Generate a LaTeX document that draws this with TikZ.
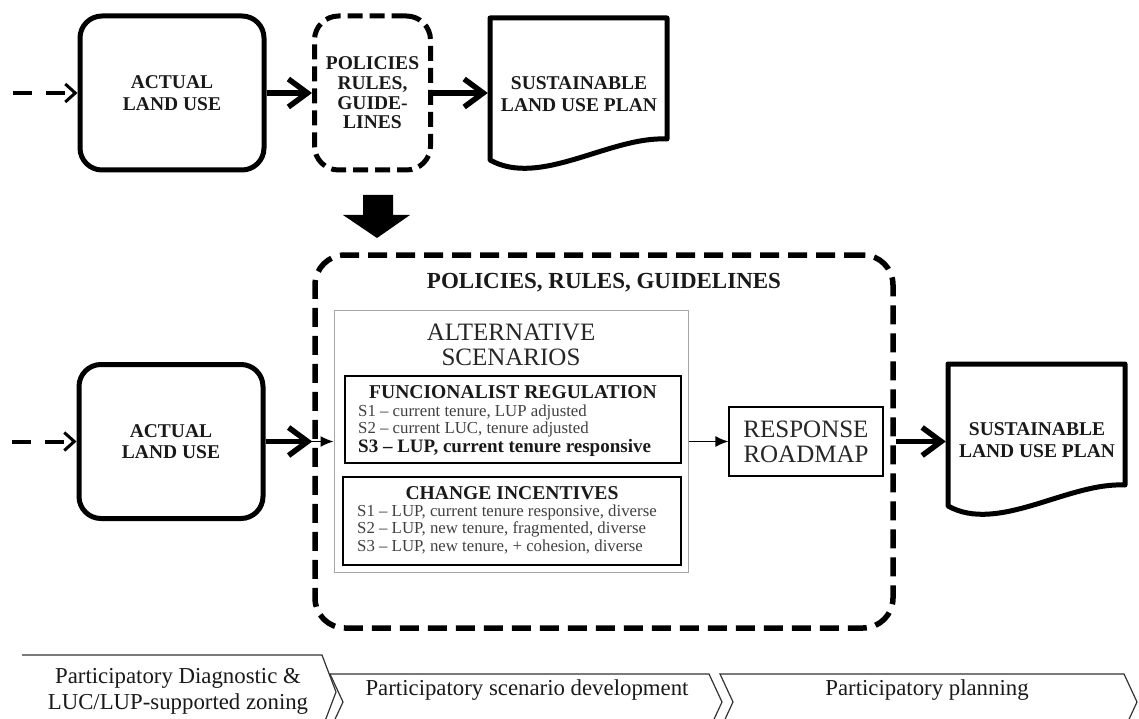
\documentclass[tikz,border=0pt]{standalone}
\usepackage{fontspec}
\setmainfont{Liberation Serif}
\usetikzlibrary{arrows.meta,calc}

% outline of a flowchart "document" shape around a named node
\newcommand\docoutline[1]{%
  \draw[docline] ($(#1)+(-89,66)$) -- ($(#1)+(-89,-76)$) -- ($(#1)+(88,-76)$)
    -- ($(#1)+(88,45)$) .. controls ($(#1)+(31,42)$) and ($(#1)+(-39,94)$) .. ($(#1)+(-89,66)$) -- cycle;}

\begin{document}
\begin{tikzpicture}[x=1pt,y=-1pt,
  lbl/.style={font=\fontsize{19.5}{21.5}\selectfont\bfseries, align=center, text=black!90},
  flowbox/.style={draw, line width=5pt, rounded corners=22pt, minimum width=184pt, minimum height=154pt, lbl},
  rulebox/.style={draw, line width=5pt, dash pattern=on 15pt off 7pt, rounded corners=24pt,
    minimum width=116pt, minimum height=154pt, align=center, text=black!90,
    font=\fontsize{19.5}{19.7}\selectfont\bfseries},
  docbox/.style={minimum width=182pt, minimum height=142pt, lbl},
  docline/.style={line width=5pt, line join=round},
  flow/.style={line width=5.5pt, -{Straight Barb[length=19pt,width=28pt]}},
  feed/.style={line width=4pt, dash pattern=on 19pt off 14pt,
    -{Straight Barb[length=10pt,width=18pt,line width=3pt]}},
  link/.style={line width=1.3pt, -{Latex[length=13pt,width=11pt]}},
  frame/.style={draw, line width=5.5pt, dash pattern=on 19pt off 9pt, rounded corners=30pt},
  panel/.style={draw, line width=1.3pt},
  head/.style={font=\fontsize{19.6}{21}\selectfont\bfseries, text=black!90},
  scen/.style={font=\fontsize{16.8}{18}\selectfont, text=black!75, anchor=west, inner sep=0pt},
  scenbold/.style={font=\fontsize{19}{20}\selectfont\bfseries, text=black!90, anchor=west, inner sep=0pt},
  caps/.style={font=\fontsize{25}{25}\selectfont, align=center, text=black!85},
  phase/.style={font=\fontsize{22.8}{26}\selectfont, align=center, text=black!90},
  phaseline/.style={draw=black!80, line width=1.2pt, line join=miter}
]
\useasboundingbox (0,0) rectangle (1139,719);

% ---------- upper chain ----------
\coordinate (in1) at (13,93);
\node[flowbox] (actual1) at (172,93) {ACTUAL\\LAND USE};
\node[rulebox] (rules1) at (372.5,93) {POLICIES\\RULES,\\GUIDE-\\LINES};
\node[docbox] (plan1) at (579,94) {SUSTAINABLE\\LAND USE PLAN};
\docoutline{plan1}

\draw[feed] (in1) -- (in1 -| actual1.west);
\draw[flow] (actual1.east) -- (rules1.west);
\draw[flow] (rules1.east) -- (rules1.east -| plan1.west);

% block arrow down to the detailed view
\coordinate (drop) at (377,195);
\fill ($(drop)+(-14,0)$) -- ($(drop)+(16,0)$) -- ($(drop)+(16,20)$) -- ($(drop)+(33,20)$)
  -- ($(drop)+(0,43)$) -- ($(drop)+(-34,20)$) -- ($(drop)+(-14,20)$) -- cycle;

% ---------- lower chain ----------
\coordinate (in2) at (12,441.5);
\node[flowbox] (actual2) at (171,441.5) {ACTUAL\\LAND USE};
\node[frame, minimum width=578pt, minimum height=373pt] (frame) at (604,441.5) {};
\node[font=\fontsize{23}{25}\selectfont\bfseries, text=black!90] (frametitle) at (604,283) {POLICIES, RULES, GUIDELINES};

\node[draw=black!35, line width=1pt, minimum width=354pt, minimum height=262pt] (alt) at (511,441.5) {};
\node[caps] (alttitle) at (511,344.5) {ALTERNATIVE\\SCENARIOS};

\node[panel, minimum width=336pt, minimum height=87pt] (func) at (513,419.5) {};
\node[head] (functitle) at (513,392) {FUNCIONALIST REGULATION};
\node[scen] (f1) at (358,412) {S1 – current tenure, LUP adjusted};
\node[scen] (f2) at (358,429.5) {S2 – current LUC, tenure adjusted};
\node[scenbold] (f3) at (358,448) {S3 – LUP, current tenure responsive};

\node[panel, minimum width=338pt, minimum height=88pt] (chg) at (512,521) {};
\node[head] (chgtitle) at (512,493) {CHANGE INCENTIVES};
\node[scen] (c1) at (357,512) {S1 – LUP, current tenure responsive, diverse};
\node[scen] (c2) at (357,529.5) {S2 – LUP, new tenure, fragmented, diverse};
\node[scen] (c3) at (357,547) {S3 – LUP, new tenure, + cohesion, diverse};

\node[draw, line width=1.2pt, minimum width=154pt, minimum height=69pt, caps] (roadmap) at (806,441.5) {RESPONSE\\ROADMAP};

\node[docbox] (plan2) at (1037,440) {SUSTAINABLE\\LAND USE PLAN};
\docoutline{plan2}

\draw[feed] (in2) -- (in2 -| actual2.west);
\draw[flow] (actual2.east) -- (frame.west);
\draw[link] (frame.west) -- (alt.west);
\draw[link] (alt.east) -- (roadmap.west);
\draw[flow] (frame.east) -- (frame.east -| plan2.west);

% ---------- process phases ----------
\begin{scope}
\clip (0,0) rectangle (1139,719);
\draw[phaseline] (22,655) -- (322,655) -- (336,692) -- (322,729);
\draw[phaseline] (330,674) -- (709,674) -- (722,702) -- (709,730) -- (330,730) -- (343,702) -- cycle;
\draw[phaseline] (720,674) -- (1124,674) -- (1137,702) -- (1124,730) -- (720,730) -- (733,702) -- cycle;
\end{scope}
\node[phase] (phase1) at (178,691) {Participatory Diagnostic \&\\LUC/LUP-supported zoning};
\node[phase] (phase2) at (527,690) {Participatory scenario development};
\node[phase] (phase3) at (927,690) {Participatory planning};
\end{tikzpicture}
\end{document}
